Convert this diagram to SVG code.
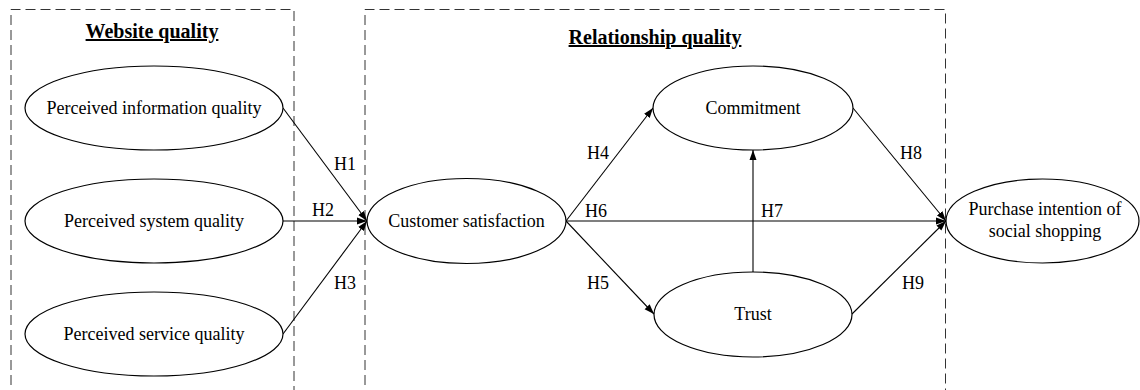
<svg xmlns="http://www.w3.org/2000/svg" width="1140" height="390" viewBox="0 0 1140 390">
<defs>
<style>
.box{fill:none;stroke:#333;stroke-width:1;stroke-dasharray:10 5}
.node ellipse{fill:#fff;stroke:#000;stroke-width:1.2}
.t{font-family:"Liberation Serif","Times New Roman",serif;font-size:18px;fill:#000;text-anchor:middle}
.title{font-family:"Liberation Serif","Times New Roman",serif;font-size:20px;font-weight:bold;fill:#000;text-anchor:middle;text-decoration:underline}
.c line{stroke:#000;stroke-width:1.1}
.arr{marker-end:url(#ah)}
</style>
<marker id="ah" viewBox="0 0 10 10" refX="10" refY="5" markerWidth="10" markerHeight="10" markerUnits="userSpaceOnUse" orient="auto">
<path d="M0,1.5 L10,5 L0,8.5 Z" fill="#000"/>
</marker>
</defs>
<rect width="1140" height="390" fill="#fff"/>
<g id="groups">
<path class="box" d="M11,400 V9.5 H294 V400"/>
<path class="box" d="M365,400 V9.5 H945.5 V400"/>
<text class="title" x="152" y="38">Website quality</text>
<text class="title" x="655" y="44">Relationship quality</text>
</g>
<g class="c" id="connectors">
<line class="arr" x1="283" y1="108" x2="367" y2="221"/>
<line class="arr" x1="283" y1="221" x2="367" y2="221"/>
<line class="arr" x1="283" y1="334" x2="367" y2="221"/>
<line class="arr" x1="566" y1="221" x2="653" y2="108"/>
<line class="arr" x1="566" y1="221" x2="654" y2="314"/>
<line class="arr" x1="566" y1="221" x2="946" y2="221"/>
<line class="arr" x1="753" y1="272" x2="753" y2="150"/>
<line class="arr" x1="853" y1="108" x2="946" y2="221"/>
<line class="arr" x1="852" y1="314" x2="946" y2="221"/>
</g>
<g id="labels">
<text class="t" x="345" y="170">H1</text>
<text class="t" x="323" y="216">H2</text>
<text class="t" x="345" y="289">H3</text>
<text class="t" x="598" y="159">H4</text>
<text class="t" x="598" y="289">H5</text>
<text class="t" x="596" y="217">H6</text>
<text class="t" x="772" y="217">H7</text>
<text class="t" x="911" y="159">H8</text>
<text class="t" x="913" y="289">H9</text>
</g>
<g class="node" id="info"><ellipse cx="154" cy="108" rx="129" ry="42"/><text class="t" x="154" y="114">Perceived information quality</text></g>
<g class="node" id="system"><ellipse cx="154" cy="221" rx="129" ry="42"/><text class="t" x="154" y="227">Perceived system quality</text></g>
<g class="node" id="service"><ellipse cx="154" cy="334" rx="129" ry="42"/><text class="t" x="154" y="340">Perceived service quality</text></g>
<g class="node" id="satisfaction"><ellipse cx="466.5" cy="221" rx="99.5" ry="42.5"/><text class="t" x="466.5" y="227">Customer satisfaction</text></g>
<g class="node" id="commitment"><ellipse cx="753" cy="108" rx="100" ry="42"/><text class="t" x="753" y="114">Commitment</text></g>
<g class="node" id="trust"><ellipse cx="753" cy="314.5" rx="99" ry="42.5"/><text class="t" x="753" y="320">Trust</text></g>
<g class="node" id="purchase"><ellipse cx="1042.5" cy="221" rx="96.5" ry="42"/><text class="t" x="1045" y="215">Purchase intention of</text><text class="t" x="1045" y="237">social shopping</text></g>
</svg>
